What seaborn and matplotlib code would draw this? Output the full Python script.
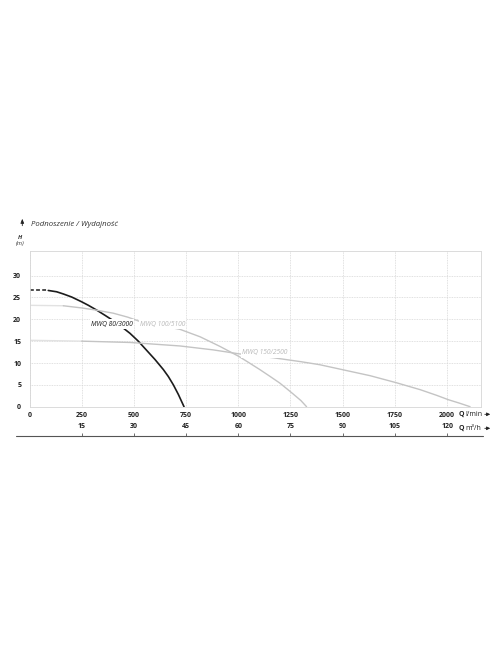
import matplotlib
matplotlib.use("Agg")
import matplotlib.pyplot as plt
import seaborn as sns

# axis ticks
q_ticks = [0, 250, 500, 750, 1000, 1250, 1500, 1750, 2000]
h_ticks = [0, 5, 10, 15, 20, 25, 30]
m3h_ticks = [15, 30, 45, 60, 75, 90, 105, 120]

# MWQ 80/3000 (black)
q_80_dash = [0, 90]
h_80_dash = [26.6, 26.6]
q_80 = [90, 130, 162, 202, 250, 282, 322, 362, 401, 441, 481, 521, 561, 601, 641, 665, 689, 713, 740]
h_80 = [26.6, 26.3, 25.8, 25.1, 24.0, 23.2, 22.1, 20.9, 19.7, 18.3, 16.8, 15.0, 12.9, 10.8, 8.5, 6.9, 5.0, 2.8, 0]

# MWQ 100/5100 (grey)
q_100_start = [0, 162]
h_100_start = [23.2, 23.1]
q_100 = [162, 250, 320, 401, 470, 529, 721, 817, 912, 1003, 1050, 1103, 1150, 1199, 1230, 1263, 1300, 1327]
h_100 = [23.1, 22.6, 22.1, 21.4, 20.5, 19.5, 17.7, 16.0, 13.8, 11.5, 10.1, 8.5, 7.0, 5.4, 4.2, 2.9, 1.4, 0]

# MWQ 150/2500 (grey)
q_150_start = [0, 250]
h_150_start = [15.2, 15.0]
q_150 = [250, 481, 721, 880, 1003, 1168, 1300, 1391, 1506, 1631, 1756, 1871, 1950, 2006, 2060, 2110]
h_150 = [15.0, 14.7, 13.9, 13.0, 12.1, 11.2, 10.3, 9.6, 8.4, 7.1, 5.5, 3.9, 2.6, 1.6, 0.8, 0]

labels = ["MWQ 80/3000", "MWQ 100/5100", "MWQ 150/2500"]
label_q = [393, 637, 1128]
label_h = [18.9, 18.9, 12.3]

sns.set_style("white")
plt.rcParams["font.family"] = ["Open Sans", "DejaVu Sans"]

W, H = 496, 664
fig = plt.figure(figsize=(W / 100, H / 100), dpi=100)
ax = fig.add_axes([29.5 / W, 1 - 406.7 / H, 451 / W, 156 / H])

grid_col = "#d6d6d6"
black = "#1c1c1c"
grey = "#c4c4c4"
faint = "#e2e2e2"

sns.lineplot(x=q_80_dash, y=h_80_dash, color=black, lw=1.1, ls=(0, (2.5, 1.5)), ax=ax)
sns.lineplot(x=q_80, y=h_80, color=black, lw=1.2, ax=ax, sort=False)
sns.lineplot(x=q_100_start, y=h_100_start, color=faint, lw=1.0, ax=ax)
sns.lineplot(x=q_100, y=h_100, color=grey, lw=1.0, ax=ax, sort=False)
sns.lineplot(x=q_150_start, y=h_150_start, color=faint, lw=1.0, ax=ax)
sns.lineplot(x=q_150, y=h_150, color=grey, lw=1.0, ax=ax, sort=False)

label_cols = [black, "#b8b8b8", "#b8b8b8"]
for txt, q, h, c in zip(labels, label_q, label_h, label_cols):
    ax.text(q, h, txt, ha="center", va="center", fontsize=4.8, style="italic",
            color=c, zorder=5,
            bbox=dict(facecolor="white", edgecolor="none", pad=0.8))

ax.set_xlim(0, 2160)
ax.set_ylim(0, 35.7)
ax.set_xticks(q_ticks)
ax.set_yticks(h_ticks)
ax.grid(True, color=grid_col, ls=(0, (1, 1)), lw=0.6)
for s in ax.spines.values():
    s.set_color(grid_col)
    s.set_linestyle((0, (1, 1)))
    s.set_linewidth(0.6)
ax.tick_params(length=0, labelsize=5, colors="#222222", pad=3.5)
for t in ax.get_xticklabels() + ax.get_yticklabels():
    t.set_fontweight("bold")
ax.tick_params(axis="y", pad=6)
ax.set_xlabel("")
ax.set_ylabel("")

# second scale: m3/h
secax = ax.secondary_xaxis(-0.188, functions=(lambda q: q * 0.06, lambda m: m / 0.06))
secax.set_alignment("top")
secax.set_xticks(m3h_ticks)
secax.tick_params(direction="out", length=2, width=0.6, color="#555555",
                  labelsize=5, labelcolor="#222222", pad=2)
for t in secax.get_xticklabels():
    t.set_fontweight("bold")
for s in secax.spines.values():
    s.set_visible(False)
ax.plot([-0.029, 1.005], [-0.188, -0.188], transform=ax.transAxes,
        clip_on=False, color="#555555", lw=0.8)

# unit labels on the right
def fx(px):
    return px / W

def fy(py):
    return 1 - py / H

for py, unit in [(414.3, "l/min"), (428.3, "m\u00b3/h")]:
    fig.text(fx(459), fy(py), "Q", fontsize=5, fontweight="bold", color="#222222",
             va="center", ha="left")
    fig.text(fx(465), fy(py), unit, fontsize=5, color="#222222", va="center", ha="left")
    fig.add_artist(matplotlib.patches.FancyArrowPatch(
        (fx(482), fy(py)), (fx(493), fy(py)), transform=fig.transFigure,
        arrowstyle="-|>,head_length=2,head_width=1", color="#222222", lw=0.6))

# title and y unit
fig.add_artist(matplotlib.patches.FancyArrowPatch(
    (fx(22.3), fy(228.5)), (fx(22.3), fy(216)), transform=fig.transFigure,
    arrowstyle="-|>,head_length=2.5,head_width=1", color="#222222", lw=0.6))
fig.text(fx(31), fy(224.5), "Podnoszenie / Wydajność", fontsize=5.6, style="italic",
         color="#333333", va="center", ha="left")
fig.text(fx(20), fy(237.7), "H", fontsize=4.3, style="italic", fontweight="bold",
         color="#333333", va="center", ha="center")
fig.text(fx(20), fy(243.5), "(m)", fontsize=4.3, style="italic",
         color="#333333", va="center", ha="center")

fig.savefig("out.png", dpi=100)
